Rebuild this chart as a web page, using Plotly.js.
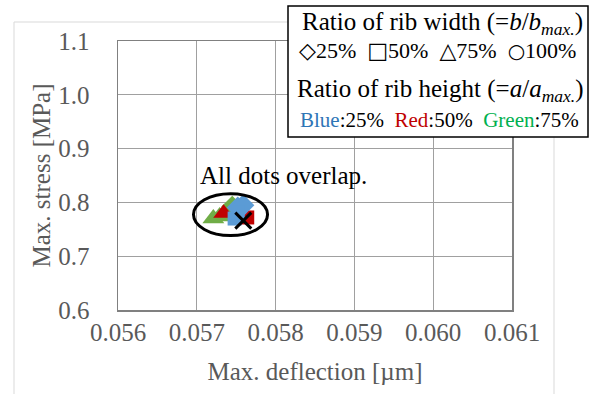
<!DOCTYPE html>
<html>
<head>
<meta charset="utf-8">
<script src="https://cdn.plot.ly/plotly-3.0.1.min.js"></script>
<style>html,body{margin:0;padding:0;background:#fff;}#chart{width:596px;height:394px;}</style>
</head>
<body>
<div id="chart"></div>
<script>
// Data
const greenX = [0.05721, 0.05729, 0.05745, 0.05742];
const greenY = [0.7700, 0.7740, 0.7920, 0.7805];
const redX = [0.05734, 0.05764, 0.05757];
const redY = [0.7800, 0.7720, 0.7760];
const blueX = [0.05752, 0.05759, 0.05748, 0.05752];
const blueY = [0.7905, 0.7945, 0.7700, 0.7820];
const crossX = [0.05759];
const crossY = [0.7661];
const xTicks = [0.056, 0.057, 0.058, 0.059, 0.060, 0.061];
const xTickText = ["0.056", "0.057", "0.058", "0.059", "0.060", "0.061"];
const yTicks = [0.6, 0.7, 0.8, 0.9, 1.0, 1.1];
const yTickText = ["0.6", "0.7", "0.8", "0.9", "1.0", "1.1"];
const ellipseCenter = [0.057428, 0.7773];
const ellipseHalf = [0.00047, 0.039];

const W = 596, H = 394, ML = 118, MR = 84, MT = 41, MB = 84;
const PW = W - ML - MR, PH = H - MT - MB;
const px = v => (v - ML) / PW;
const py = v => (H - MB - v) / PH;

const serif = "Liberation Serif, Times New Roman, serif";
const gray = "#595959";

const traces = [
  {x: greenX, y: greenY, type: "scatter", mode: "markers", showlegend: false,
   marker: {color: "#70AD47", opacity: 1, line: {width: 0}, size: [19, 19, 17, 15], symbol: ["triangle-up", "triangle-up", "diamond", "square"]}},
  {x: redX, y: redY, type: "scatter", mode: "markers", showlegend: false,
   marker: {color: "#C00000", opacity: 1, line: {width: 0}, size: [18, 14, 14], symbol: ["triangle-up", "square", "diamond"]}},
  {x: blueX, y: blueY, type: "scatter", mode: "markers", showlegend: false,
   marker: {color: "#5B9BD5", opacity: 1, line: {width: 0}, size: [17, 17, 14, 14], symbol: ["diamond", "diamond", "square", "square"]}},
  {x: crossX, y: crossY, type: "scatter", mode: "markers", showlegend: false,
   marker: {color: "#000", size: 16, symbol: "x-thin-open", line: {width: 3, color: "#000"}}}
];

const layout = {
  width: W, height: H,
  margin: {l: ML, r: MR, t: MT, b: MB, pad: 0},
  paper_bgcolor: "#fff", plot_bgcolor: "#fff",
  font: {family: serif, color: gray},
  showlegend: false,
  xaxis: {
    range: [0.056, 0.061], tickvals: xTicks, ticktext: xTickText,
    showgrid: true, gridcolor: "#A0A0A0", gridwidth: 1,
    showline: true, linecolor: "#808080", linewidth: 1.5, mirror: true,
    zeroline: false, ticks: "", ticklabelstandoff: -1,
    tickfont: {family: serif, size: 25, color: gray},
    title: {text: "Max. deflection [µm]", font: {family: serif, size: 25, color: gray}, standoff: 18}
  },
  yaxis: {
    range: [0.6, 1.1], tickvals: yTicks, ticktext: yTickText,
    showgrid: true, gridcolor: "#A0A0A0", gridwidth: 1,
    showline: true, linecolor: "#808080", linewidth: 1.5, mirror: true,
    zeroline: false, ticks: "", ticklabelstandoff: 22,
    tickfont: {family: serif, size: 25, color: gray},
    title: {text: "Max. stress [MPa]", font: {family: serif, size: 25, color: gray}, standoff: 0}
  },
  shapes: [
    {type: "rect", xref: "paper", yref: "paper", x0: px(14), x1: px(554), y0: py(402), y1: py(22),
     line: {color: "#D9D9D9", width: 1}, fillcolor: "rgba(0,0,0,0)", layer: "below"},
    {type: "circle", xref: "x", yref: "y",
     x0: ellipseCenter[0] - ellipseHalf[0], x1: ellipseCenter[0] + ellipseHalf[0],
     y0: ellipseCenter[1] - ellipseHalf[1], y1: ellipseCenter[1] + ellipseHalf[1],
     line: {color: "#000", width: 3}},
    {type: "rect", xref: "paper", yref: "paper", x0: px(288), x1: px(588), y0: py(137), y1: py(6),
     line: {color: "#000", width: 1.5}, fillcolor: "#fff", layer: "above"}
  ],
  annotations: [
    {xref: "paper", yref: "paper", x: px(283), y: py(175), xanchor: "center", yanchor: "middle",
     text: "All dots overlap.", showarrow: false, font: {family: serif, size: 25, color: "#000"}},
    {xref: "paper", yref: "paper", x: px(442), y: py(24), xanchor: "center", yanchor: "middle",
     text: "Ratio of rib width (=<i>b</i>/<i>b</i><sub><i>max.</i></sub>)", showarrow: false,
     font: {family: serif, size: 25, color: "#000"}},
    {xref: "paper", yref: "paper", x: px(437), y: py(50), xanchor: "center", yanchor: "middle",
     text: "<span style='font-family:DejaVu Sans;font-weight:bold;font-size:22px'>◇</span>25%  <span style='font-family:DejaVu Sans;font-weight:bold;font-size:22px'>□</span>50%  <span style='font-family:DejaVu Sans;font-weight:bold;font-size:22px'>△</span>75%  <span style='font-family:DejaVu Sans;font-weight:bold;font-size:20px'>○</span>100%",
     showarrow: false, font: {family: serif, size: 22, color: "#000"}},
    {xref: "paper", yref: "paper", x: px(440), y: py(90), xanchor: "center", yanchor: "middle",
     text: "Ratio of rib height (=<i>a</i>/<i>a</i><sub><i>max.</i></sub>)", showarrow: false,
     font: {family: serif, size: 25, color: "#000"}},
    {xref: "paper", yref: "paper", x: px(439), y: py(120), xanchor: "center", yanchor: "middle",
     text: "<span style='color:#2E75B6'>Blue</span>:25%  <span style='color:#C00000'>Red</span>:50%  <span style='color:#00B050'>Green</span>:75%",
     showarrow: false, font: {family: serif, size: 21, color: "#000"}}
  ]
};

Plotly.newPlot("chart", traces, layout, {staticPlot: true, displayModeBar: false});
</script>
</body>
</html>
